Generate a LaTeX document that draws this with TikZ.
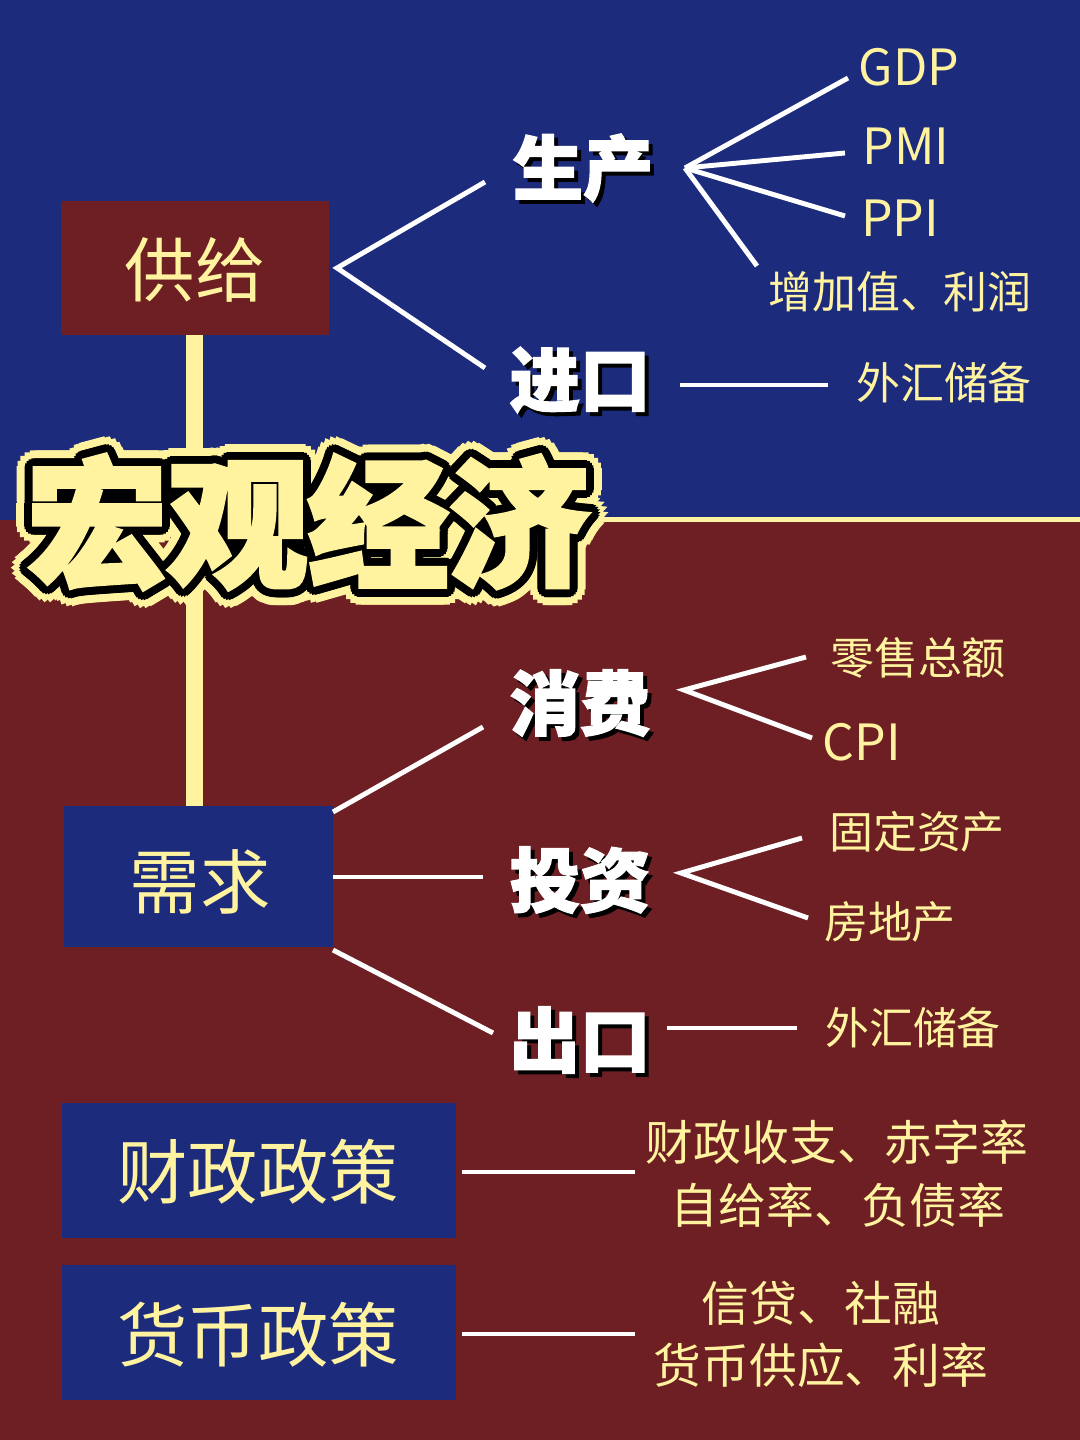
\documentclass[tikz,border=0pt]{standalone}
\usepackage{fontspec}
\newfontfamily\cjk{Noto Sans CJK SC}[BoldFeatures={FakeBold=1.2}]
\newfontfamily\cjkh{Noto Sans CJK SC}[BoldFeatures={FakeBold=3}]
\newfontfamily\cjkm{Noto Sans CJK SC}[BoldFeatures={FakeBold=2}]
\usetikzlibrary{calc}
\definecolor{bgblue}{RGB}{29,43,125}
\definecolor{bgred}{RGB}{110,31,36}
\definecolor{yel}{RGB}{255,243,160}
\begin{document}
\begin{tikzpicture}[x=0.01cm,y=-0.01cm,
  conn/.style={draw=white, line width=1.4pt},
  ylab/.style={text=yel, font=\cjk\fontsize{12.5}{15}\selectfont, inner sep=0pt},
  ylatin/.style={text=yel, font=\cjk\fontsize{14.2}{17}\selectfont, inner sep=0pt},
  ylabbig/.style={text=yel, font=\cjk\fontsize{13.6}{16}\selectfont, inner sep=0pt},
  boxtxt/.style={text=yel, font=\cjk\fontsize{20}{24}\selectfont, inner sep=0pt},
  wtxt/.style={text=white, font=\cjkm\bfseries\fontsize{20}{24}\selectfont, inner sep=0pt},
  wshadow/.style={text=black, font=\cjkm\bfseries\fontsize{20}{24}\selectfont, inner sep=0pt},
  ttl/.style={font=\cjkh\bfseries\fontsize{40}{46}\selectfont, inner sep=0pt}
]
% backgrounds
\fill[bgblue] (0,0) rectangle (1080,520);
\fill[bgred] (0,520) rectangle (1080,1440);
\fill[yel] (590,517) rectangle (1080,522);
\useasboundingbox (0,0) rectangle (1080,1440);

% vertical trunk
\fill[yel] (186,335) rectangle (203,806);

% boxes
\fill[bgred] (61,201) rectangle (329,335);
\node[boxtxt] (gongji) at (195,270) {供给};
\fill[bgblue] (64,806) rectangle (333,947);
\node[boxtxt] (xuqiu) at (200,882) {需求};
\fill[bgblue] (62,1103) rectangle (456,1238);
\node[boxtxt] (caizheng) at (258,1172) {财政政策};
\fill[bgblue] (62,1265) rectangle (456,1400);
\node[boxtxt] (huobi) at (258,1335) {货币政策};

% title with outlines
\foreach \a in {0,20,...,340}{
  \node[ttl, text=yel, shift={(\a:16)}] (tO\a) at (308,522) {宏观经济};
}
\foreach \a in {0,20,...,340}{
  \node[ttl, text=black, shift={(\a:8)}] (tB\a) at (308,522) {宏观经济};
}
\node[ttl, text=yel] (title) at (308,522) {宏观经济};

% bold white category labels with shadow
\node[wshadow] (scS) at (587,172) {生产};
\node[wtxt] (sc) at (583,168) {生产};
\node[wshadow] (jkS) at (584,384) {进口};
\node[wtxt] (jk) at (580,380) {进口};
\node[wshadow] (xfS) at (584,707) {消费};
\node[wtxt] (xf) at (580,703) {消费};
\node[wshadow] (tzS) at (584,884) {投资};
\node[wtxt] (tz) at (580,880) {投资};
\node[wshadow] (ckS) at (584,1044) {出口};
\node[wtxt] (ck) at (580,1040) {出口};

% yellow leaf labels
\node[ylatin] (gdp) at (909,67) {GDP};
\node[ylatin] (pmi) at (906,146) {PMI};
\node[ylatin] (ppi) at (900,218) {PPI};
\node[ylab] (zjz) at (900,292) {增加值、利润};
\node[ylab] (wh1) at (944,383) {外汇储备};
\node[ylab] (lsze) at (918,658) {零售总额};
\node[ylatin] (cpi) at (862,742) {CPI};
\node[ylab] (gdzc) at (917,832) {固定资产};
\node[ylab] (fdc) at (890,922) {房地产};
\node[ylab] (wh2) at (913,1028) {外汇储备};
\node[ylabbig] (czsz) at (837,1142) {财政收支、赤字率};
\node[ylabbig] (zgl) at (838,1205) {自给率、负债率};
\node[ylabbig] (xdsr) at (821,1303) {信贷、社融};
\node[ylabbig] (hbgy) at (821,1365) {货币供应、利率};

% connector hubs and ends
\coordinate (h1) at (337,268);
\coordinate (e1a) at (485,182);
\coordinate (e1b) at (485,368);
\draw[conn] (e1a) -- (h1) -- (e1b);

\coordinate (h2) at (685,168);
\coordinate (e2a) at (848,78);
\coordinate (e2b) at (845,153);
\coordinate (e2c) at (845,216);
\coordinate (e2d) at (757,266);
\draw[conn] (h2) -- (e2a);
\draw[conn] (h2) -- (e2b);
\draw[conn] (h2) -- (e2c);
\draw[conn] (h2) -- (e2d);

\coordinate (s3) at (680,385);
\coordinate (e3) at (828,385);
\draw[conn] (s3) -- (e3);

\coordinate (h4) at (333,812);
\coordinate (e4a) at (483,727);
\coordinate (s4b) at (333,877);
\coordinate (e4b) at (483,877);
\coordinate (s4c) at (333,950);
\coordinate (e4c) at (493,1033);
\draw[conn] (h4) -- (e4a);
\draw[conn] (s4b) -- (e4b);
\draw[conn] (s4c) -- (e4c);

\coordinate (h5) at (684,690);
\coordinate (e5a) at (806,657);
\coordinate (e5b) at (812,738);
\draw[conn] (e5a) -- (h5) -- (e5b);

\coordinate (h6) at (681,873);
\coordinate (e6a) at (802,838);
\coordinate (e6b) at (808,918);
\draw[conn] (e6a) -- (h6) -- (e6b);

\coordinate (s7) at (667,1028);
\coordinate (e7) at (797,1028);
\draw[conn] (s7) -- (e7);

\coordinate (s8) at (462,1172);
\coordinate (e8) at (635,1172);
\draw[conn] (s8) -- (e8);

\coordinate (s9) at (462,1334);
\coordinate (e9) at (635,1334);
\draw[conn] (s9) -- (e9);
\end{tikzpicture}
\end{document}
